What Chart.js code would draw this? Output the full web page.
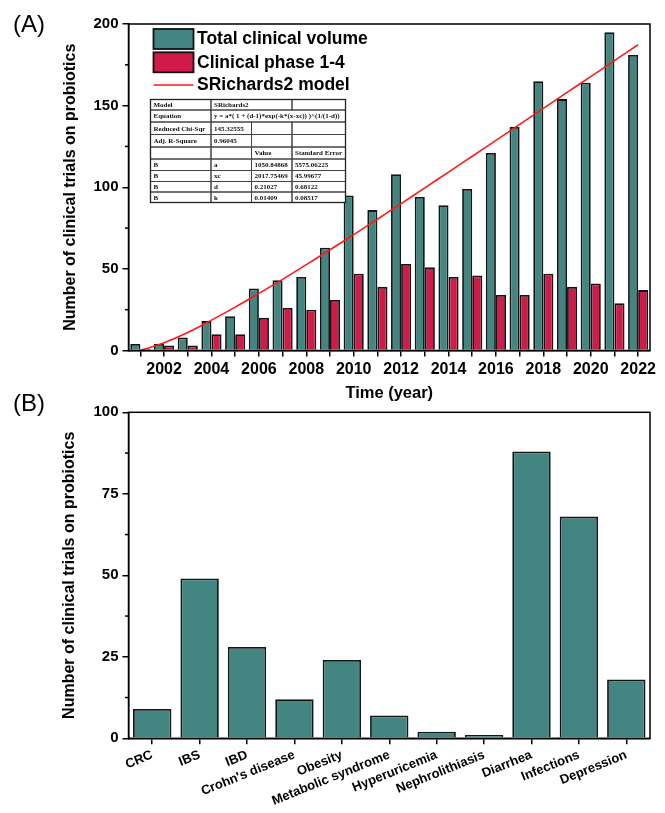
<!DOCTYPE html>
<html>
<head>
<meta charset="utf-8">
<script src="https://cdn.jsdelivr.net/npm/chart.js@4.4.0/dist/chart.umd.min.js"></script>
<style>
body { margin: 0; background: #fff; }
#wrap { position: relative; width: 665px; height: 813px; }
#boxA { position: absolute; left: 0; top: 0; width: 665px; height: 405px; }
#boxB { position: absolute; left: 0; top: 405px; width: 665px; height: 408px; }
.panel { position: absolute; font: 24px Arial, "Liberation Sans", sans-serif; line-height: 24px; }
</style>
</head>
<body>
<div id="wrap">
	<div id="boxA"><canvas id="chartA"></canvas></div>
	<div id="boxB"><canvas id="chartB"></canvas></div>
	<div class="panel" style="left:13px;top:12px">(A)</div>
	<div class="panel" style="left:13px;top:391px">(B)</div>
</div>
<script>
// values

var years = ['2001','2002','2003','2004','2005','2006','2007','2008','2009','2010','2011',
	'2012','2013','2014','2015','2016','2017','2018','2019','2020','2021','2022'];
var totalVolume = [4,4,8,18,21,38,43,45,63,95,86,108,94,89,99,121,137,165,154,164,195,181];
var phase14 = [1,3,3,10,10,20,26,25,31,47,39,53,51,45,46,34,34,47,39,41,29,37];
var modelLine = [0,4.7,11,18.6,26.6,35,43.6,52.6,61.7,71,80.4,90,99.6,109.3,119,128.7,138.5,148.3,158.1,167.8,177.6,187.3];

var diseases = ['CRC','IBS','IBD',"Crohn's disease",'Obesity','Metabolic syndrome',
	'Hyperuricemia','Nephrolithiasis','Diarrhea','Infections','Depression'];
var diseaseTrials = [9,49,28,12,24,7,2,1,88,68,18];

var fitRows = [
	['Model', 'SRichards2', '', ''],
	['Equation', 'y = a*( 1 + (d-1)*exp(-k*(x-xc)) )^(1/(1-d))', '', ''],
	['Reduced Chi-Sqr', '145.32555', '', ''],
	['Adj. R-Square', '0.96045', '', ''],
	['', '', 'Value', 'Standard Error'],
	['B', 'a', '1050.84868', '5575.06225'],
	['B', 'xc', '2017.75469', '45.99677'],
	['B', 'd', '0.21027', '0.68122'],
	['B', 'k', '0.01409', '0.08517']
];
var fitSpans = [[1,2], [1,3]]; // [col, span] for rows 0 and 1

var TEAL = '#438580';
var CRIMSON = '#cf1a4a';
var FONT = 'Arial, "Liberation Sans", sans-serif';

Chart.defaults.font.family = FONT;
Chart.defaults.color = '#000';
Chart.defaults.animation = false;

// frame + minor ticks
var framePlugin = {
	id: 'frame',
	afterDraw: function(chart) {
		var a = chart.chartArea, ctx = chart.ctx;
		ctx.save();
		ctx.strokeStyle = '#000';
		ctx.lineWidth = 1.5;
		ctx.strokeRect(a.left, a.top, a.right - a.left, a.bottom - a.top);
		var minor = chart.options.plugins.frame.minor || [];
		var ys = chart.scales.y;
		minor.forEach(function(v) {
			var p = ys.getPixelForValue(v);
			ctx.beginPath();
			ctx.moveTo(a.left - 3.5, p);
			ctx.lineTo(a.left, p);
			ctx.stroke();
		});
		ctx.restore();
	}
};

// legend inside the plot, top left
var legendPlugin = {
	id: 'inlegend',
	afterDraw: function(chart) {
		var a = chart.chartArea, ctx = chart.ctx;
		var ds = chart.data.datasets;
		var x = a.left + 25, tx = a.left + 68.5;
		ctx.save();
		ctx.font = 'bold 17.5px ' + FONT;
		ctx.textBaseline = 'middle';
		ctx.fillStyle = '#000';
		[ds[0], ds[1]].forEach(function(d, i) {
			var y = a.top + 5 + i * 23.3;
			ctx.fillStyle = d.backgroundColor;
			ctx.fillRect(x, y, 40, 20);
			ctx.strokeStyle = '#111';
			ctx.lineWidth = 1.8;
			ctx.strokeRect(x, y, 40, 20);
			ctx.fillStyle = '#000';
			ctx.fillText(d.label, tx, y + 10.5);
		});
		var ly = a.top + 61;
		ctx.strokeStyle = ds[2].borderColor;
		ctx.lineWidth = 1.5;
		ctx.beginPath();
		ctx.moveTo(x, ly);
		ctx.lineTo(x + 40, ly);
		ctx.stroke();
		ctx.fillText(ds[2].label, tx, ly + 0.5);
		ctx.restore();
	}
};

// fit parameter table
var tablePlugin = {
	id: 'fittable',
	afterDraw: function(chart) {
		var ctx = chart.ctx;
		var cols = [150.5, 211, 251.5, 292, 345.5];
		var rows = [99.5, 110, 122, 134.5, 147, 159, 170.5, 181.5, 192, 202.5];
		ctx.save();
		ctx.fillStyle = '#fff';
		ctx.fillRect(cols[0], rows[0], cols[4] - cols[0], rows[9] - rows[0]);
		ctx.strokeStyle = '#444';
		ctx.lineWidth = 1;
		ctx.font = 'bold 7px "Liberation Serif", "Times New Roman", serif';
		ctx.textBaseline = 'middle';
		ctx.fillStyle = '#111';
		fitRows.forEach(function(r, i) {
			var y0 = rows[i], y1 = rows[i + 1];
			var c = 0;
			while (c < 4) {
				var span = 1;
				if (i < 2 && c === fitSpans[i][0]) span = fitSpans[i][1];
				var x0 = cols[c], x1 = cols[c + span];
				ctx.strokeRect(x0, y0, x1 - x0, y1 - y0);
				if (r[c]) ctx.fillText(r[c], x0 + 3, (y0 + y1) / 2 + 0.5);
				c += span;
			}
		});
		ctx.lineWidth = 1.3;
		ctx.strokeStyle = '#222';
		ctx.strokeRect(cols[0], rows[0], cols[4] - cols[0], rows[9] - rows[0]);
		ctx.restore();
	}
};

function fixY(w) {
	return function(s) { s.width = w; s.paddingTop = 0; s.paddingBottom = 0; };
}
function fixX(h) {
	return function(s) { s.height = h; s.paddingLeft = 0; s.paddingRight = 0; };
}

var axisGrid = { drawOnChartArea: false, color: '#000', lineWidth: 1.5, tickLength: 6 };
var axisBorder = { color: '#000', width: 1.5 };

new Chart(document.getElementById('chartA'), {
	type: 'bar',
	data: {
		labels: years,
		datasets: [
			{ label: 'Total clinical volume', data: totalVolume, backgroundColor: TEAL,
				borderColor: '#151515', borderWidth: 1.8, order: 1 },
			{ label: 'Clinical phase 1-4', data: phase14, backgroundColor: CRIMSON,
				borderColor: '#151515', borderWidth: 1.8, order: 1 },
			{ type: 'line', label: 'SRichards2 model', data: modelLine, borderColor: '#ff1a1a',
				borderWidth: 1.6, pointRadius: 0, tension: 0.4, fill: false, order: 0 }
		]
	},
	options: {
		responsive: true,
		maintainAspectRatio: false,
		devicePixelRatio: 1,
		layout: { padding: { left: 0, top: 24, right: 15, bottom: 0 } },
		datasets: { bar: { categoryPercentage: 0.85, barPercentage: 1.0 } },
		plugins: {
			legend: { display: false },
			tooltip: { enabled: false },
			frame: { minor: [25, 75, 125, 175] }
		},
		scales: {
			x: {
				afterFit: fixX(54.5),
				grid: Object.assign({ offset: false }, axisGrid),
				border: axisBorder,
				ticks: {
					autoSkip: false, maxRotation: 0, padding: 3,
					font: { size: 16, weight: 'bold' },
					callback: function(v) {
						var y = this.getLabelForValue(v);
						return (+y % 2 === 0) ? y : '';
					}
				},
				title: { display: true, text: 'Time (year)', font: { size: 16.5, weight: 'bold' },
					padding: { top: 0, bottom: 2 } }
			},
			y: {
				min: 0, max: 200,
				afterFit: fixY(128.5),
				grid: axisGrid,
				border: axisBorder,
				ticks: { stepSize: 50, padding: 4, font: { size: 15, weight: 'bold' } },
				title: { display: true, text: 'Number of clinical trials on probiotics',
					font: { size: 16, weight: 'bold' }, padding: { top: 61, bottom: 0 } }
			}
		}
	},
	plugins: [framePlugin, tablePlugin, legendPlugin]
});

new Chart(document.getElementById('chartB'), {
	type: 'bar',
	data: {
		labels: diseases,
		datasets: [
			{ label: 'Trials', data: diseaseTrials, backgroundColor: TEAL,
				borderColor: '#151515', borderWidth: 1.8 }
		]
	},
	options: {
		responsive: true,
		maintainAspectRatio: false,
		devicePixelRatio: 1,
		layout: { padding: { left: 0, top: 7.3, right: 15, bottom: 0 } },
		datasets: { bar: { categoryPercentage: 0.81, barPercentage: 1.0 } },
		plugins: {
			legend: { display: false },
			tooltip: { enabled: false },
			frame: { minor: [12.5, 37.5, 62.5, 87.5] }
		},
		scales: {
			x: {
				afterFit: fixX(74.7),
				grid: Object.assign({ offset: false }, axisGrid),
				border: axisBorder,
				ticks: { autoSkip: false, minRotation: 22, maxRotation: 22, padding: 3,
					font: { size: 13, weight: 'bold' } }
			},
			y: {
				min: 0, max: 100,
				afterFit: fixY(128.5),
				grid: axisGrid,
				border: axisBorder,
				ticks: { stepSize: 25, padding: 4, font: { size: 15, weight: 'bold' } },
				title: { display: true, text: 'Number of clinical trials on probiotics',
					font: { size: 16, weight: 'bold' }, padding: { top: 60, bottom: 0 } }
			}
		}
	},
	plugins: [framePlugin]
});
</script>
</body>
</html>
